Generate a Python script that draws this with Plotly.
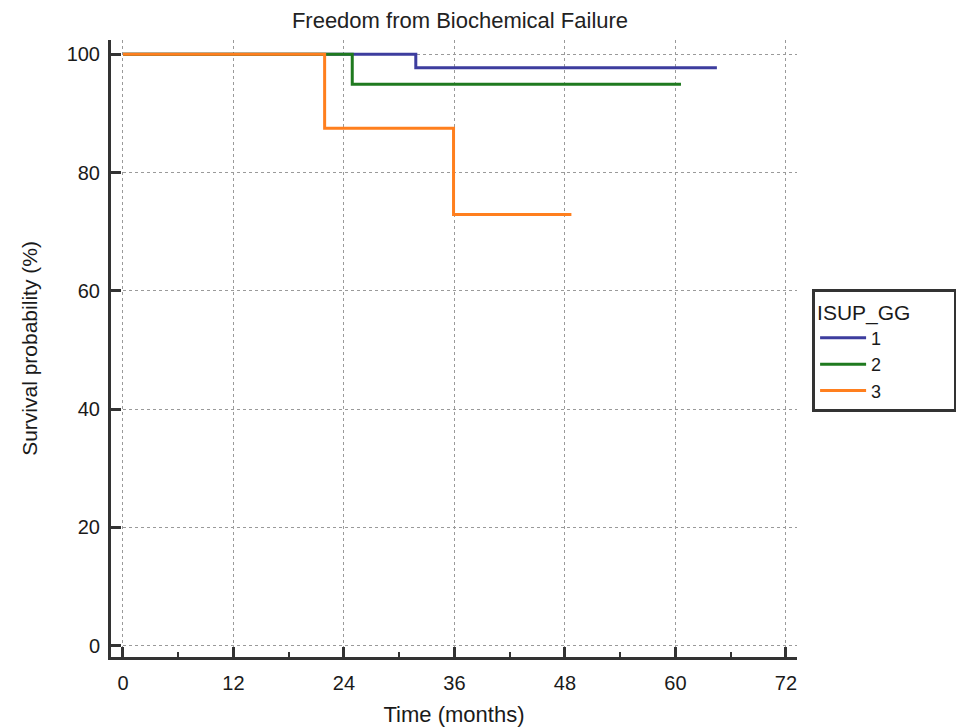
import plotly.graph_objects as go

# Data
groups = ["1", "2", "3"]
time_g1 = [0, 31.8, 64.5]
surv_g1 = [100, 97.7, 97.7]
time_g2 = [0, 24.9, 60.6]
surv_g2 = [100, 94.9, 94.9]
time_g3 = [0, 21.9, 35.9, 48.7]
surv_g3 = [100, 87.5, 72.9, 72.9]
x_ticks = [0, 12, 24, 36, 48, 60, 72]
y_ticks = [0, 20, 40, 60, 80, 100]

colors = ["#3d3d9e", "#1f7a1f", "#ff7f1e"]
FONT = "Liberation Sans, Arial, sans-serif"
TXT = "#1a1a1a"

fig = go.Figure()
for name, t, s, c in zip(groups, [time_g1, time_g2, time_g3], [surv_g1, surv_g2, surv_g3], colors):
    fig.add_trace(go.Scatter(x=t, y=s, mode="lines", name=name,
                             line=dict(color=c, width=3, shape="hv")))

axis_common = dict(
    showline=True, linecolor="#333333", linewidth=3,
    ticks="inside", tickcolor="#333333", tickwidth=3, ticklen=10,
    showgrid=True, gridcolor="#9a9a9a", gridwidth=1, griddash="dot",
    zeroline=False, mirror=False, automargin=False,
    tickfont=dict(family=FONT, size=20, color=TXT),
)

fig.update_xaxes(range=[-1.3, 73.2], tickvals=x_ticks, ticklabelstandoff=6,
                 title=dict(text="Time (months)", font=dict(family=FONT, size=22, color=TXT), standoff=14),
                 minor=dict(dtick=6, tick0=0, ticks="inside", ticklen=5, tickwidth=2, tickcolor="#333333", showgrid=False),
                 **axis_common)
fig.update_yaxes(range=[-1.9, 102.4], tickvals=y_ticks, ticklabelstandoff=4,
                 title=dict(text="Survival probability (%)", font=dict(family=FONT, size=21, color=TXT), standoff=24),
                 **axis_common)

W, H = 956, 720
fig.update_layout(
    width=W, height=H,
    margin=dict(l=103, r=167, t=32, b=71, autoexpand=False),
    paper_bgcolor="white", plot_bgcolor="white",
    title=dict(text="Freedom from Biochemical Failure", x=(460 - 8) / W, xref="container", xanchor="center",
               y=1 - (20 - 8) / H, yref="container", yanchor="middle",
               font=dict(family=FONT, size=22, color="#222222")),
    legend=dict(title=dict(text="ISUP_GG" + "\u00a0" * 7, font=dict(family=FONT, size=21, color=TXT)),
                font=dict(family=FONT, size=18, color=TXT),
                x=1.022, xanchor="left", y=0.596, yanchor="top",
                bordercolor="#333333", borderwidth=3, bgcolor="white",
                tracegroupgap=0, itemwidth=46),
    showlegend=True,
)

fig.write_html("out.html")
